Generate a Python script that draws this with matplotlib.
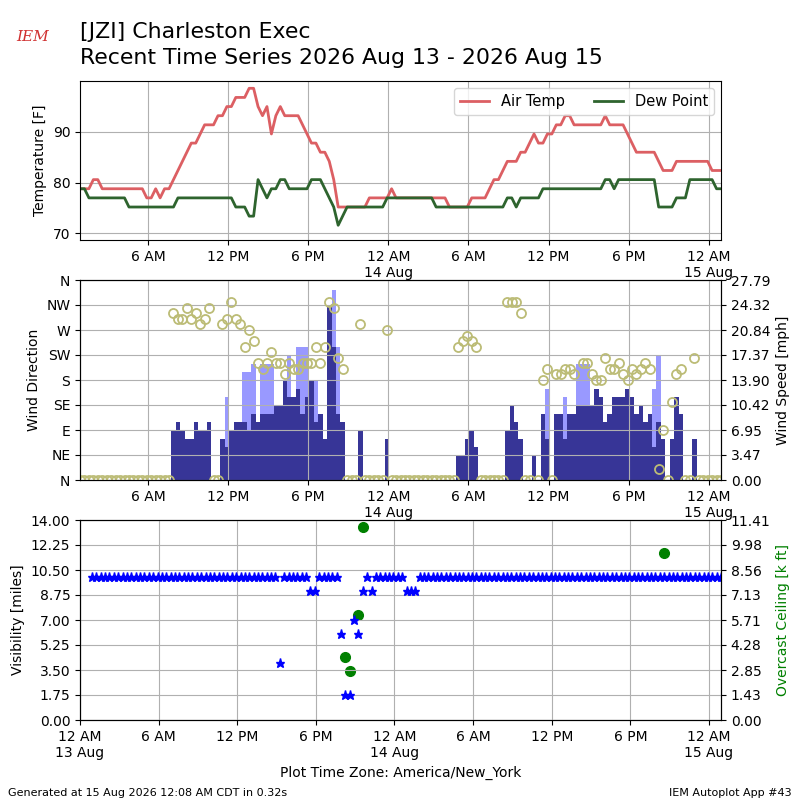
import numpy as np
import pandas as pd
import matplotlib
matplotlib.use("Agg")
import matplotlib.pyplot as plt
import matplotlib.dates as mdates
from matplotlib.ticker import FuncFormatter, FormatStrFormatter

nan = np.nan

# AWOS reports every 20 minutes, local time America/New_York
times = pd.date_range("2026-08-13 00:55", periods=145, freq="20min")
plot_day0 = pd.Timestamp("2026-08-13 00:00")

# air temperature [F]
tmpf = [78.8, 78.8, 78.8, 80.6, 80.6, 78.8, 78.8, 78.8, 78.8, 78.8, 78.8, 78.8,
        78.8, 78.8, 78.8, 77, 77, 78.8, 77, 78.8, 78.8, 80.6, 82.4, 84.2,
        86, 87.8, 87.8, 89.6, 91.4, 91.4, 91.4, 93.2, 93.2, 95, 95, 96.8,
        96.8, 96.8, 98.6, 98.6, 95, 93.2, 95, 89.6, 93.2, 95, 93.2, 93.2,
        93.2, 93.2, 91.4, 89.6, 87.8, 87.8, 86, 86, 84.2, 80.6, 75.2, 75.2,
        75.2, 75.2, 75.2, 75.2, 75.2, 77, 77, 77, 77, 77, 78.8, 77,
        77, 77, 77, 77, 77, 77, 77, 77, 77, 77, 77, 75.2,
        75.2, 75.2, 75.2, 75.2, 77, 77, 77, 77, 78.8, 80.6, 80.6, 82.4,
        84.2, 84.2, 84.2, 86, 86, 87.8, 89.6, 87.8, 87.8, 89.6, 89.6, 91.4,
        91.4, 93.2, 93.2, 91.4, 91.4, 91.4, 91.4, 91.4, 91.4, 91.4, 93.2, 91.4,
        91.4, 91.4, 91.4, 89.6, 87.8, 86, 86, 86, 86, 86, 84.2, 82.4,
        82.4, 82.4, 84.2, 84.2, 84.2, 84.2, 84.2, 84.2, 84.2, 84.2, 82.4, 82.4,
        82.4]

# dew point [F]
dwpf = [78.8, 78.8, 77, 77, 77, 77, 77, 77, 77, 77, 77, 75.2,
        75.2, 75.2, 75.2, 75.2, 75.2, 75.2, 75.2, 75.2, 75.2, 75.2, 77, 77,
        77, 77, 77, 77, 77, 77, 77, 77, 77, 77, 77, 75.2,
        75.2, 75.2, 73.4, 73.4, 80.6, 78.8, 77, 78.8, 78.8, 80.6, 80.6, 78.8,
        78.8, 78.8, 78.8, 78.8, 80.6, 80.6, 80.6, 78.8, 77, 75.2, 71.6, 73.4,
        75.2, 75.2, 75.2, 75.2, 75.2, 75.2, 75.2, 75.2, 75.2, 77, 77, 77,
        77, 77, 77, 77, 77, 77, 77, 77, 75.2, 75.2, 75.2, 75.2,
        75.2, 75.2, 75.2, 75.2, 75.2, 75.2, 75.2, 75.2, 75.2, 75.2, 75.2, 75.2,
        77, 77, 75.2, 77, 77, 77, 77, 77, 78.8, 78.8, 78.8, 78.8,
        78.8, 78.8, 78.8, 78.8, 78.8, 78.8, 78.8, 78.8, 78.8, 78.8, 80.6, 80.6,
        78.8, 80.6, 80.6, 80.6, 80.6, 80.6, 80.6, 80.6, 80.6, 80.6, 75.2, 75.2,
        75.2, 75.2, 77, 77, 77, 80.6, 80.6, 80.6, 80.6, 80.6, 80.6, 78.8,
        78.8]

# wind speed and gust [kt], direction [deg] (0 = calm)
sknt = [0, 0, 0, 0, 0, 0, 0, 0, 0, 0, 0, 0,
        0, 0, 0, 0, 0, 0, 0, 0, 0, 6, 7, 6,
        5, 5, 7, 6, 6, 7, 0, 0, 5, 4, 6, 7,
        7, 7, 6, 8, 7, 8, 8, 8, 9, 9, 12, 10,
        10, 11, 8, 10, 12, 7, 8, 5, 21, 16, 8, 7,
        0, 0, 0, 6, 0, 0, 0, 0, 0, 5, 0, 0,
        0, 0, 0, 0, 0, 0, 0, 0, 0, 0, 0, 0,
        0, 3, 3, 5, 6, 4, 0, 0, 0, 0, 0, 0,
        6, 9, 7, 5, 0, 0, 3, 0, 8, 5, 0, 8,
        8, 5, 8, 8, 9, 9, 9, 9, 11, 10, 7, 8,
        10, 10, 10, 11, 10, 8, 9, 7, 8, 4, 7, 5,
        0, 5, 10, 8, 0, 0, 5, 0, 0, 0, 0, 0,
        0]

gust = [nan] * 33 + [10, nan, nan, nan, 13, 13, 14, nan, 14, 14, 14,
        nan, nan, nan, 15, nan, 16, 16, 16, nan, 12, nan, nan, nan, 23, 16] \
    + [nan] * 46 + [11, nan, nan, nan, 10, nan, nan, 14, 14, 14] \
    + [nan] * 14 + [11, 15] + [nan] * 14

drct = [0, 0, 0, 0, 0, 0, 0, 0, 0, 0, 0, 0,
        0, 0, 0, 0, 0, 0, 0, 0, 0, 300, 290, 290,
        310, 290, 300, 280, 290, 310, 0, 0, 280, 290, 320, 290,
        280, 240, 270, 250, 210, 200, 210, 230, 210, 210, 190, 210,
        200, 200, 210, 210, 210, 240, 210, 240, 320, 310, 220, 200,
        0, 0, 0, 280, 0, 0, 0, 0, 0, 270, 0, 0,
        0, 0, 0, 0, 0, 0, 0, 0, 0, 0, 0, 0,
        0, 240, 250, 260, 250, 240, 0, 0, 0, 0, 0, 0,
        320, 320, 320, 300, 0, 0, nan, 0, 180, 200, 0, 190,
        190, 200, 200, 190, nan, 210, 210, 190, 180, 180, 220, 200,
        200, 210, 190, 180, 200, 190, 200, 210, 200, nan, 20, 90,
        0, 140, 190, 200, 0, 0, 220, 0, 0, 0, 0, 0,
        0]

# visibility [miles]
vsby = [10] * 43 + [4, 10, 10, 10, 10, 10, 10, 9, 9, 10, 10, 10, 10, 10,
        6, 1.75, 1.75, 7, 6, 9, 10, 9, 10, 10, 10, 10, 10, 10, 10,
        9, 9, 9] + [10] * 70

# overcast ceiling [k ft]
ceil = [nan] * 145
ceil[58] = 3.6
ceil[59] = 2.8
ceil[61] = 6.0
ceil[62] = 11.0
ceil[131] = 9.5

KT2MPH = 1.15078
smph = np.array(sknt) * KT2MPH
gmph = np.array(gust, dtype=float) * KT2MPH
x = mdates.date2num(times.to_pydatetime())
barw = 20.0 / 1440.0


def timefmt(val, pos=None):
    d = mdates.num2date(val)
    if d.hour == 0:
        return "12 AM\n%d %s" % (d.day, d.strftime("%b"))
    h = d.hour % 12 or 12
    return "%d %s" % (h, "AM" if d.hour < 12 else "PM")


def setup_time(ax):
    ax.xaxis.set_major_locator(mdates.HourLocator(byhour=[0, 6, 12, 18]))
    ax.xaxis.set_major_formatter(FuncFormatter(timefmt))
    ax.grid(True)


fig = plt.figure(figsize=(8, 8), dpi=100)

# --- temperature
ax1 = fig.add_axes([0.1, 0.70, 0.80125, 0.1985])
ax1.plot(x, tmpf, color="#dc5f63", lw=2, label="Air Temp")
ax1.plot(x, dwpf, color="#2e642e", lw=2, label="Dew Point")
ax1.set_ylim(68.7, 100.0)
ax1.set_yticks([70, 80, 90])
ax1.set_xlim(x[0], x[-1])
ax1.set_ylabel("Temperature [F]")
setup_time(ax1)
ax1.legend(loc="upper right", ncol=2, fontsize=10.5)

# --- wind
ax2 = fig.add_axes([0.1, 0.40, 0.80125, 0.25])
ax2b = ax2.twinx()
ax2b.bar(x, gmph, width=barw, color="#9999ff", align="center")
ax2b.bar(x, smph, width=barw, color="#373597", align="center")
top = np.nanmax(gmph) * 1.05
ax2b.set_ylim(0, top)
ax2b.set_yticks(np.linspace(0, top, 9))
ax2b.yaxis.set_major_formatter(FormatStrFormatter("%.2f"))
ax2b.set_ylabel("Wind Speed [mph]")
ax2.set_zorder(ax2b.get_zorder() + 1)
ax2.patch.set_visible(False)
ax2.plot(x, drct, "o", mfc="none", mec="#bcbc76", ms=6.5, mew=1.3)
ax2.set_ylim(0, 360)
ax2.set_yticks(range(0, 361, 45))
ax2.set_yticklabels(["N", "NE", "E", "SE", "S", "SW", "W", "NW", "N"])
ax2.set_ylabel("Wind Direction")
ax2.set_xlim(x[0], x[-1])
setup_time(ax2)

# --- visibility / ceiling
ax3 = fig.add_axes([0.1, 0.10, 0.80125, 0.25])
ax3b = ax3.twinx()
ax3b.plot(x, ceil, "o", color="g", ms=7)
ax3b.set_ylim(0, 11.41)
ax3b.set_yticks(np.linspace(0, 11.41, 9))
ax3b.yaxis.set_major_formatter(FormatStrFormatter("%.2f"))
ax3b.set_ylabel("Overcast Ceiling [k ft]", color="g")
ax3.set_zorder(ax3b.get_zorder() + 1)
ax3.patch.set_visible(False)
ax3.plot(x, vsby, "*", color="b", ms=6.5)
ax3.set_ylim(0, 14)
ax3.set_yticks(np.arange(0, 14.01, 1.75))
ax3.yaxis.set_major_formatter(FormatStrFormatter("%.2f"))
ax3.set_ylabel("Visibility [miles]")
ax3.set_xlim(mdates.date2num(plot_day0.to_pydatetime()), x[-1])
setup_time(ax3)
ax3.set_xlabel("Plot Time Zone: America/New_York")

fig.text(0.1, 0.973, "[JZI] Charleston Exec\nRecent Time Series 2026 Aug 13 - 2026 Aug 15",
         fontsize=15.8, va="top", ha="left", linespacing=1.42)
fig.text(0.02, 0.945, "IEM", color="#d03030", fontsize=11, style="italic",
         family="serif", ha="left", va="bottom")
fig.text(0.01, 0.005, "Generated at 15 Aug 2026 12:08 AM CDT in 0.32s", fontsize=8)
fig.text(0.99, 0.005, "IEM Autoplot App #43", fontsize=8, ha="right")

fig.savefig("out.png", dpi=100)
